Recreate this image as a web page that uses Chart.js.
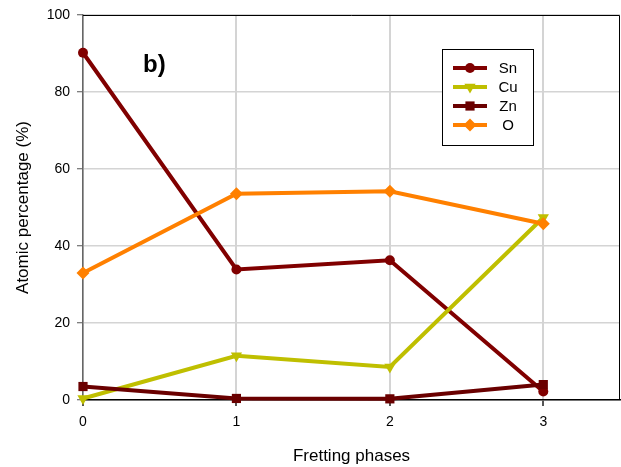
<!DOCTYPE html>
<html>
<head>
<meta charset="utf-8">
<script src="https://cdn.jsdelivr.net/npm/chart.js@4/dist/chart.umd.min.js"></script>
<style>
html,body{margin:0;padding:0;background:#fff;}
#wrap{width:621px;height:467px;position:relative;}
</style>
</head>
<body>
<div id="wrap"><canvas id="c" width="621" height="467"></canvas></div>
<script>
const phases = [0, 1, 2, 3];
const seriesNames = ['Sn', 'Cu', 'Zn', 'O'];
const snValues = [90.2, 33.9, 36.3, 2.2];
const cuValues = [0.4, 11.5, 8.6, 47.4];
const znValues = [3.5, 0.4, 0.3, 4.0];
const oValues = [33.0, 53.6, 54.2, 45.8];
const yTicks = [0, 20, 40, 60, 80, 100];
const xTicks = [0, 1, 2, 3];
const xMax = 3.5;

const FONT = 'Liberation Sans, Arial, sans-serif';

function pts(vals){ return phases.map((x,i)=>({x:x,y:vals[i]})); }

const styles = [
  {color:'#800000', style:'circle', radius:5, rotation:0},
  {color:'#bfbf00', style:'triangle', radius:6.5, rotation:180},
  {color:'#6a0000', style:'rect', radius:6.5, rotation:0},
  {color:'#ff8000', style:'rectRot', radius:6.5, rotation:0}
];
const allVals = [snValues, cuValues, znValues, oValues];

const datasets = seriesNames.map((n,i)=>({
  label:n,
  data:pts(allVals[i]),
  borderColor:styles[i].color,
  backgroundColor:styles[i].color,
  pointBackgroundColor:styles[i].color,
  pointBorderColor:styles[i].color,
  pointStyle:styles[i].style,
  pointRadius:styles[i].radius,
  pointRotation:styles[i].rotation,
  borderWidth:4,
  pointBorderWidth:0,
  tension:0,
  order:4-i,
  clip:false
}));

const framePlugin = {
  id:'frame',
  afterDraw(chart){
    const {ctx, chartArea:a} = chart;
    ctx.save();
    ctx.strokeStyle='#000';
    ctx.lineWidth=1;
    ctx.beginPath();
    ctx.moveTo(a.left, a.top+0.5);
    ctx.lineTo(a.right-0.5, a.top+0.5);
    ctx.lineTo(a.right-0.5, a.bottom);
    ctx.stroke();
    // panel label
    ctx.fillStyle='#000';
    ctx.font='bold 24px '+FONT;
    ctx.textBaseline='alphabetic';
    ctx.textAlign='left';
    ctx.fillText('b)', 143, 72);
    // legend
    const bx=442, by=49, bw=91, bh=96;
    ctx.fillStyle='#fff';
    ctx.fillRect(bx,by,bw,bh);
    ctx.strokeStyle='#000';
    ctx.strokeRect(bx+0.5,by+0.5,bw,bh);
    chart.data.datasets.forEach((ds,i)=>{
      const y = 68 + i*19;
      ctx.strokeStyle=ds.borderColor;
      ctx.lineWidth=4;
      ctx.beginPath();
      ctx.moveTo(453,y); ctx.lineTo(487,y); ctx.stroke();
      ctx.fillStyle=ds.pointBackgroundColor;
      Chart.helpers.drawPoint(ctx,{pointStyle:ds.pointStyle, radius:ds.pointRadius, rotation:ds.pointRotation, borderWidth:0},470,y);
      ctx.fillStyle='#000';
      ctx.font='15px '+FONT;
      ctx.textAlign='center';
      ctx.textBaseline='middle';
      ctx.fillText(ds.label, 508, y+1);
    });
    ctx.restore();
  }
};

new Chart(document.getElementById('c'), {
  type:'line',
  data:{datasets:datasets},
  options:{
    responsive:false,
    animation:false,
    devicePixelRatio:1,
    layout:{autoPadding:false, padding:{left:0,right:1,top:15,bottom:0}},
    plugins:{legend:{display:false}, tooltip:{enabled:false}},
    scales:{
      x:{
        type:'linear', min:0, max:xMax,
        afterBuildTicks(s){ s.ticks = xTicks.map(v=>({value:v})); },
        afterFit(s){ s.height = 67; s.paddingLeft = 0; s.paddingRight = 0; },
        ticks:{color:'#000', font:{family:FONT,size:14}, padding:8, callback:v=>String(v)},
        grid:{color:'#d4d4d4', lineWidth:2, tickLength:6, tickColor:'#555', tickWidth:2, drawOnChartArea:true},
        border:{color:'#000', width:1.5},
        title:{display:true, text:'Fretting phases', color:'#000', font:{family:FONT,size:17}, padding:{top:3,bottom:0}}
      },
      y:{
        min:0, max:100,
        afterBuildTicks(s){ s.ticks = yTicks.map(v=>({value:v})); },
        afterFit(s){ s.width = 83; s.paddingTop = 0; s.paddingBottom = 0; },
        ticks:{color:'#000', font:{family:FONT,size:14}, padding:7},
        grid:{color:'#d4d4d4', lineWidth:1.5, tickLength:6, tickColor:'#555', tickWidth:1},
        border:{color:'#666', width:1.5},
        title:{display:true, text:'Atomic percentage (%)', color:'#000', font:{family:FONT,size:17}, padding:{top:13,bottom:0}}
      }
    }
  },
  plugins:[framePlugin]
});
</script>
</body>
</html>
